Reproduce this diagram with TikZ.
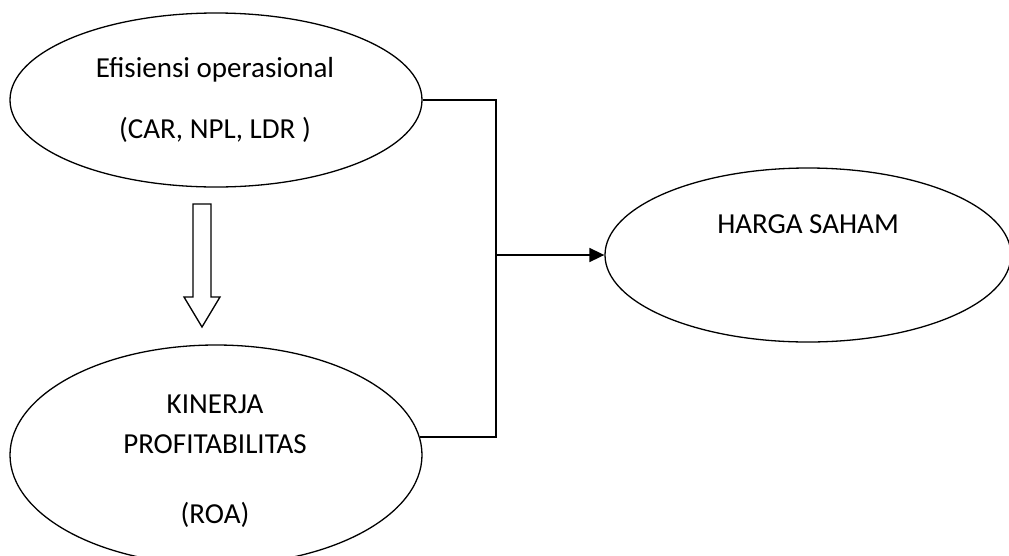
\documentclass[tikz,border=0pt]{standalone}
\usepackage{fontspec}
\setmainfont{Carlito}
\usetikzlibrary{shapes.geometric,arrows.meta}
\begin{document}
\begin{tikzpicture}[x=1pt,y=-1pt,
  oval/.style={draw,ellipse,line width=1.3pt,inner sep=0pt},
  lbl/.style={anchor=base,inner sep=0pt,font=\fontsize{29}{35}\selectfont},
  link/.style={line width=1.7pt}]
\useasboundingbox (0,0) rectangle (1009,555);
\node[oval,minimum width=412pt,minimum height=174pt] (e1) at (216,100) {};
\node[oval,minimum width=412pt,minimum height=220pt] (e2) at (216,455) {};
\node[oval,minimum width=406pt,minimum height=174pt] (e3) at (808,255) {};
\node[lbl] (t1) at (215,77) {Efisiensi operasional};
\node[lbl] (t2) at (215,138) {(CAR, NPL, LDR )};
\node[lbl] (t3) at (215,413) {KINERJA};
\node[lbl] (t4) at (215,453) {PROFITABILITAS};
\node[lbl] (t5) at (215,523) {(ROA)};
\node[lbl] (t6) at (808,233) {HARGA SAHAM};
\coordinate (bus) at (496,255);
\draw[link] (e1.east) -| (bus) |- (e2.5);
\draw[link,-{Triangle[length=15pt,width=14pt]}] (bus) -- (e3.west);
\draw[line width=1.3pt,line join=miter] (193,204) -- (211,204) -- (211,297) -- (220,297) -- (202,327) -- (184,297) -- (193,297) -- cycle;
\end{tikzpicture}
\end{document}
